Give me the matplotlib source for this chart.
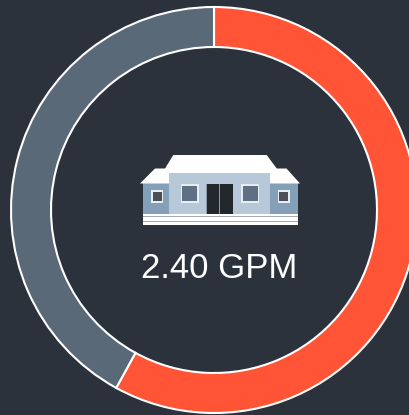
import matplotlib
matplotlib.use("Agg")
import matplotlib.pyplot as plt
from matplotlib.patches import Polygon, Rectangle

# donut data
SHARES = [58, 42]
LABEL = "2.40 GPM"

BG = "#2b323b"
RED = "#ff5436"
SLATE = "#5a6978"


def rect(ax, x0, y0, x1, y1, color, z=3):
    ax.add_patch(Rectangle((x0, y0), x1 - x0, y1 - y0, facecolor=color, edgecolor="none", zorder=z))


def draw_house(ax):
    # all in pixel coordinates of the picture
    roof = [(173.3, 155), (266.7, 155), (276.7, 168.5), (286.5, 168.5), (300, 183.5),
            (140, 183.5), (155, 168.5), (165, 168.5)]
    rect(ax, 142.7, 183, 297.7, 213.5, "#84a0b8")
    ax.add_patch(Polygon(roof, closed=True, facecolor="white", edgecolor="none", zorder=4))
    rect(ax, 169.3, 172.5, 270, 213.5, "#b7c9d9", z=5)

    # small side windows
    for x0 in (151, 277.7):
        rect(ax, x0, 190, x0 + 12.5, 202.7, "#e8edf1", z=6)
        rect(ax, x0 + 1.8, 191.8, x0 + 10.7, 200.9, "#4a4f57", z=7)
    # bigger windows
    for x0 in (180.7, 241):
        rect(ax, x0, 184, x0 + 18.5, 202.5, "#e8edf1", z=6)
        rect(ax, x0 + 1.8, 185.8, x0 + 16.7, 200.7, "#5f7085", z=7)
    # door
    rect(ax, 206.3, 184, 233.5, 213.5, "#8b99a6", z=6)
    rect(ax, 206.8, 184.3, 219, 213.5, "#22282c", z=7)
    rect(ax, 220.5, 184.3, 233, 213.5, "#22282c", z=7)
    # steps
    rect(ax, 142.7, 213.5, 297.7, 225, "white", z=6)
    rect(ax, 142.7, 215.8, 297.7, 217, "#a3abb3", z=7)
    rect(ax, 142.7, 220.7, 297.7, 222, "#a3abb3", z=7)


def main():
    plt.rcParams["font.family"] = ["Liberation Sans", "DejaVu Sans"]
    fig = plt.figure(figsize=(4.10, 4.15), dpi=100, facecolor=BG)
    ax = fig.add_axes([0, 0, 1, 1])
    ax.set_facecolor(BG)

    # y axis runs downward, so -90 is the top and counterclock reads clockwise on screen
    ax.pie(SHARES, colors=[RED, SLATE], startangle=-90, counterclock=True,
           center=(214, 210), radius=203,
           wedgeprops=dict(width=40, edgecolor="white", linewidth=1.5))
    ax.set_xlim(0, 410)
    ax.set_ylim(415, 0)
    ax.set_aspect("equal")
    ax.set_axis_off()

    draw_house(ax)
    ax.text(219.5, 268.5, LABEL, color="white", fontsize=25, ha="center", va="center")

    fig.savefig("out.png", dpi=100, facecolor=BG)


if __name__ == "__main__":
    main()
